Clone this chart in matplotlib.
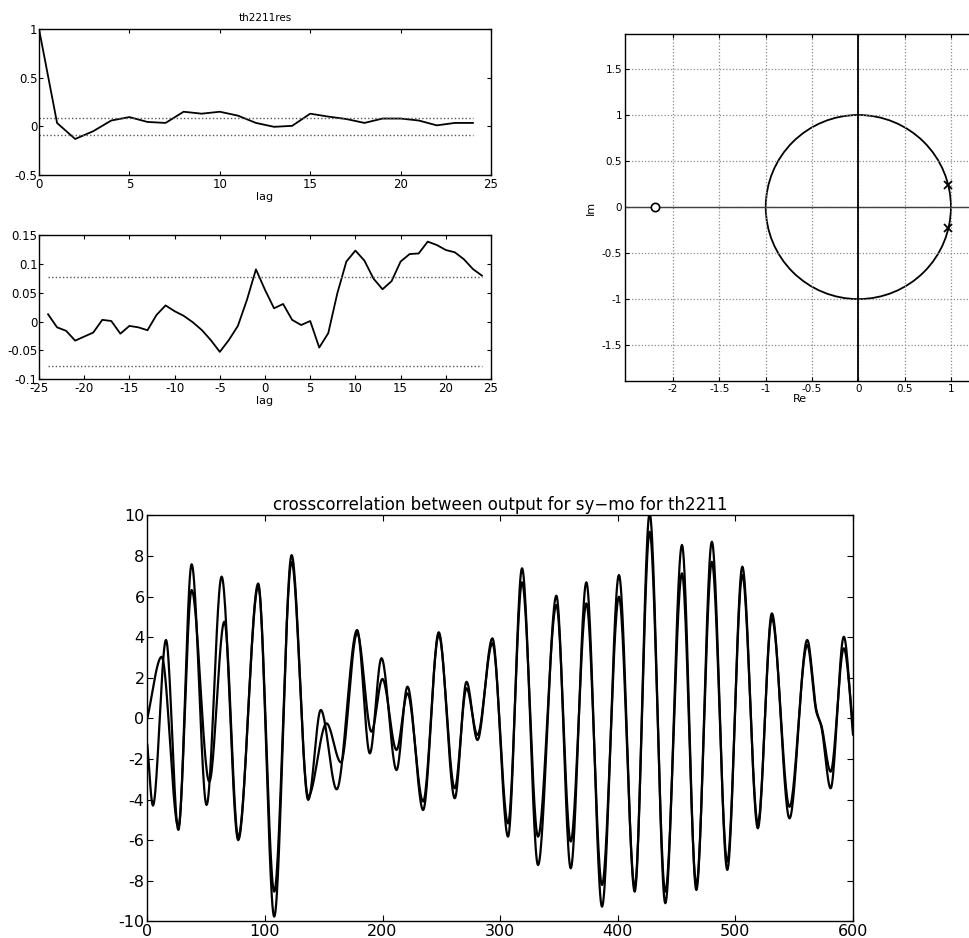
import numpy as np
import matplotlib
matplotlib.use("Agg")
import matplotlib.pyplot as plt
from matplotlib.patches import Circle

plt.rcParams['font.family'] = ['DejaVu Sans']
plt.rcParams['axes.unicode_minus'] = False

# ---------------- data ----------------
# residual autocorrelation (top-left)
acf_lag = list(range(0, 25))
acf_val = [1.0, 0.034, -0.13, -0.05, 0.06, 0.095, 0.045, 0.035, 0.15, 0.13,
           0.15, 0.11, 0.035, -0.005, 0.005, 0.13, 0.10, 0.075, 0.035, 0.08,
           0.08, 0.06, 0.01, 0.035, 0.035]
acf_conf = 0.088

# cross correlation residual/input (middle-left)
ccf_lag = list(range(-24, 25))
ccf_val = [0.0127, -0.010, -0.016, -0.033, -0.026, -0.019, 0.003, 0.001, -0.021,
           -0.0075, -0.010, -0.015, 0.0115, 0.028, 0.018, 0.010, -0.001, -0.0145,
           -0.032, -0.0525, -0.032, -0.0075, 0.0375, 0.0905, 0.055, 0.023, 0.0305,
           0.003, -0.006, 0.001, -0.045, -0.020, 0.049, 0.104, 0.123, 0.1055,
           0.0745, 0.056, 0.070, 0.104, 0.117, 0.118, 0.1385, 0.1327, 0.124,
           0.120, 0.108, 0.091, 0.0796]
ccf_conf = 0.077

# pole-zero map (right)
zeros_re = [-2.2]
zeros_im = [0.0]
poles_re = [0.97, 0.97]
poles_im = [0.235, -0.23]

# output comparison (bottom): points
sy_x = [0, 4.8, 15.9, 26.4, 37.7, 50.4, 63.2, 77.3, 94.3, 107.9, 122.7, 136.8,
        147.5, 161, 178.4, 189.2, 199.1, 211.9, 221.2, 234.5, 247.8, 261.4,
        271.4, 280.7, 293.4, 306.7, 318.6, 332.2, 347.8, 360, 373.3, 386.6,
        401, 414.4, 427.1, 440.4, 454.6, 466.8, 480, 493.1, 505.9, 519.1, 531,
        546, 561.1, 568.9, 573.1, 581, 592.2, 600]
sy_y = [-1.3, -4.3, 3.86, -5.5, 7.59, -4.27, 6.98, -6.0, 6.64, -9.77, 8.04, -4.02,
        0.41, -3.5, 4.35, -1.73, 2.96, -2.55, 1.56, -4.52, 4.24, -3.94,
        1.8, -1.07, 3.94, -5.83, 7.39, -7.23, 6.04, -7.39, 6.7, -9.28,
        7.06, -8.54, 10.1, -9.11, 8.54, -8.46, 8.7, -7.47, 7.47, -5.42, 5.17,
        -4.93, 3.86, 0.4, -0.42, -3.45, 4.02, -0.8]
mo_x = [0, 12.2, 26.4, 37.7, 52.7, 65.5, 77.3, 94.3, 107.9, 122.7, 136.8,
        152.4, 164.6, 178.4, 190.6, 199.9, 211.9, 221.2, 234.5, 247.8, 261.4,
        271.4, 280.7, 293.4, 306.7, 318.6, 332.2, 347.8, 360, 373.3, 386.6,
        401, 414.4, 427.1, 440.4, 454.6, 466.8, 480, 493.1, 505.9, 519.1, 531,
        546, 561.1, 568.9, 573.1, 581, 592.2, 600]
mo_y = [0.0, 3.03, -5.35, 6.32, -3.12, 4.76, -5.85, 6.5, -8.54, 7.7, -3.85,
        -0.25, -2.17, 4.2, -0.66, 1.94, -1.56, 1.23, -4.1, 4.1, -3.45,
        1.48, -0.82, 3.7, -5.18, 6.7, -5.83, 5.58, -6.07, 5.66, -8.21,
        5.99, -8.3, 9.19, -8.54, 7.14, -8.2, 7.71, -7.06, 7.06, -5.17, 4.93,
        -4.36, 3.61, 0.3, -0.35, -2.63, 3.45, -0.3]


def smooth_line(xk, yk, n=8):
    """Shape-preserving (PCHIP) smooth line through the read points."""
    xk = np.asarray(xk, float)
    yk = np.asarray(yk, float)
    h = np.diff(xk)
    d = np.diff(yk) / h
    m = np.zeros_like(yk)
    m[0] = d[0]
    m[-1] = d[-1]
    for k in range(1, len(xk) - 1):
        if d[k - 1] * d[k] <= 0:
            m[k] = 0.0
        else:
            w1 = 2 * h[k] + h[k - 1]
            w2 = h[k] + 2 * h[k - 1]
            m[k] = (w1 + w2) / (w1 / d[k - 1] + w2 / d[k])
    xs, ys = [], []
    for k in range(len(xk) - 1):
        t = np.linspace(0, 1, max(n, int(h[k] * 2)), endpoint=False)
        h00 = 2 * t**3 - 3 * t**2 + 1
        h10 = t**3 - 2 * t**2 + t
        h01 = -2 * t**3 + 3 * t**2
        h11 = t**3 - t**2
        xs.append(xk[k] + t * h[k])
        ys.append(h00 * yk[k] + h10 * h[k] * m[k] + h01 * yk[k + 1] + h11 * h[k] * m[k + 1])
    xs.append([xk[-1]])
    ys.append([yk[-1]])
    return np.concatenate(xs), np.concatenate(ys)


W, H = 969, 938
fig = plt.figure(figsize=(W / 100, H / 100), dpi=100)


def style(ax, fs):
    ax.tick_params(direction='in', top=True, right=True, length=3, width=0.8,
                   labelsize=fs, pad=2, colors='black')
    for s in ax.spines.values():
        s.set_linewidth(1.0)
        s.set_color('black')


dot = (0, (1.0, 1.6))

# ---------- top-left ----------
ax1 = fig.add_axes([39 / W, 1 - 175 / H, 452 / W, 146 / H])
ax1.plot(acf_lag, acf_val, color='black', lw=1.3)
ax1.plot([acf_lag[0], acf_lag[-1]], [acf_conf, acf_conf], color='0.35', lw=1.0, linestyle=dot)
ax1.plot([acf_lag[0], acf_lag[-1]], [-acf_conf, -acf_conf], color='0.35', lw=1.0, linestyle=dot)
ax1.set_xlim(0, 25)
ax1.set_ylim(-0.5, 1)
ax1.set_xticks([0, 5, 10, 15, 20, 25])
ax1.set_yticks([-0.5, 0, 0.5, 1])
ax1.set_yticklabels(['-0.5', '0', '0.5', '1'])
style(ax1, 8.5)
ax1.tick_params(axis='y', pad=1)
ax1.set_title('th2211res', fontsize=7.5, pad=6)
ax1.set_xlabel('lag', fontsize=8, labelpad=1)

# ---------- middle-left ----------
ax2 = fig.add_axes([39 / W, 1 - 379.3 / H, 452 / W, 144.3 / H])
ax2.plot(ccf_lag, ccf_val, color='black', lw=1.3)
ax2.plot([ccf_lag[0], ccf_lag[-1]], [ccf_conf, ccf_conf], color='0.35', lw=1.0, linestyle=dot)
ax2.plot([ccf_lag[0], ccf_lag[-1]], [-ccf_conf, -ccf_conf], color='0.35', lw=1.0, linestyle=dot)
ax2.set_xlim(-25, 25)
ax2.set_ylim(-0.1, 0.15)
ax2.set_xticks(range(-25, 26, 5))
ax2.set_yticks([-0.1, -0.05, 0, 0.05, 0.1, 0.15])
ax2.set_yticklabels(['-0.1', '-0.05', '0', '0.05', '0.1', '0.15'])
style(ax2, 8.5)
ax2.tick_params(axis='y', pad=1)
ax2.set_xlabel('lag', fontsize=8, labelpad=1)

# ---------- right: pole-zero ----------
ax3 = fig.add_axes([625 / W, 1 - 381 / H, 350 / W, 347 / H])
ax3.set_xlim(-2.52, 1.26)
ax3.set_ylim(-1.89, 1.88)
ax3.set_xticks([-2, -1.5, -1, -0.5, 0, 0.5, 1])
ax3.set_xticklabels(['-2', '-1.5', '-1', '-0.5', '0', '0.5', '1'])
ax3.set_yticks([-1.5, -1, -0.5, 0, 0.5, 1, 1.5])
ax3.set_yticklabels(['-1.5', '-1', '-0.5', '0', '0.5', '1', '1.5'])
ax3.grid(True, color='0.55', lw=0.9, linestyle=dot)
ax3.axhline(0, color='0.25', lw=1.0)
ax3.axvline(0, color='black', lw=1.3)
ax3.add_patch(Circle((0, 0), 1.0, fill=False, color='black', lw=1.3))
ax3.plot(zeros_re, zeros_im, 'o', mfc='white', mec='black', ms=6, mew=1.2)
ax3.plot(poles_re, poles_im, 'x', color='black', ms=6, mew=1.3)
style(ax3, 7.5)
ax3.set_xlabel('Re', fontsize=8, labelpad=0)
ax3.set_ylabel('Im', fontsize=8, labelpad=4)

# ---------- bottom ----------
ax4 = fig.add_axes([147.3 / W, 1 - 921.3 / H, 705.7 / W, 406 / H])
xs, ys = smooth_line(sy_x, sy_y)
ax4.plot(xs, ys, color='black', lw=1.6)
xs, ys = smooth_line(mo_x, mo_y)
ax4.plot(xs, ys, color='black', lw=1.6)
ax4.set_xlim(0, 600)
ax4.set_ylim(-10, 10)
ax4.set_xticks(range(0, 601, 100))
ax4.set_yticks(range(-10, 11, 2))
style(ax4, 11.5)
ax4.tick_params(length=4)
ax4.set_title('crosscorrelation between output for sy\u2212mo for th2211', fontsize=12, pad=4)

fig.savefig('out.png', dpi=100)
